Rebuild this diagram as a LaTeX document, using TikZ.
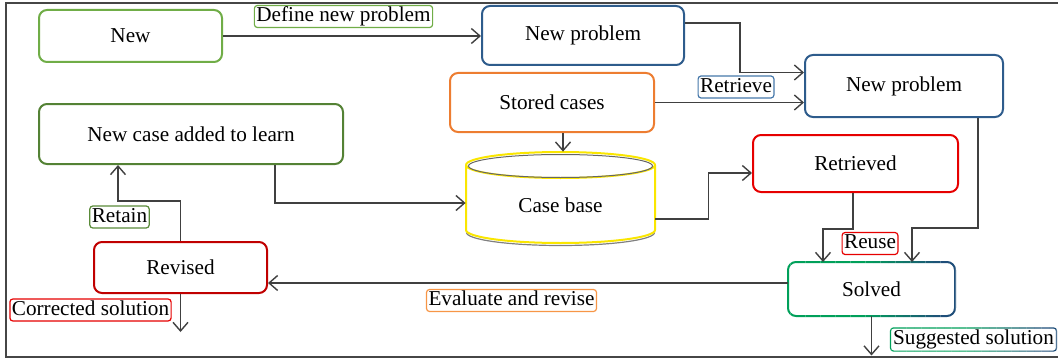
\documentclass[tikz,border=0pt]{standalone}
\usepackage{fontspec}
\setmainfont{Liberation Serif}
\usetikzlibrary{arrows.meta,calc}
\definecolor{cnew}{RGB}{112,173,71}
\definecolor{cncase}{RGB}{84,130,53}
\definecolor{cblue}{RGB}{46,92,140}
\definecolor{corange}{RGB}{237,125,49}
\definecolor{cred}{RGB}{230,0,0}
\definecolor{cdred}{RGB}{192,0,0}
\definecolor{sgreen}{RGB}{0,160,90}
\definecolor{sblue}{RGB}{31,78,121}
\definecolor{cyellow}{RGB}{250,230,0}
\definecolor{lretrieve}{RGB}{70,120,170}
\definecolor{lorange}{RGB}{247,150,70}
\definecolor{lineg}{RGB}{64,64,64}
\definecolor{framegray}{RGB}{70,70,70}
\begin{document}
\begin{tikzpicture}[x=0.5pt,y=-0.5pt,
  every node/.style={font=\fontsize{10.6}{12}\selectfont},
  box/.style={draw,rounded corners=4pt,line width=1pt,fill=white,align=center,inner sep=0pt},
  lbl/.style={draw,rounded corners=1.5pt,line width=0.6pt,inner xsep=1pt,inner ysep=0.9pt,
    text height=7.2pt,text depth=2pt,fill=white},
  arr/.style={draw=lineg,line width=0.7pt,-{Straight Barb[length=4.3pt,width=7.5pt]}},
  gradbox/.style={line width=1pt,rounded corners=4pt}]
\useasboundingbox (0,0) rectangle (1058,358);
\draw[line width=1pt,draw=framegray] (1058,3.5) -- (6,3.5) -- (6,356.5) -- (1058,356.5);

% boxes
\node[box,draw=cnew,minimum width=91.5pt,minimum height=26pt] (new) at (130.5,36) {New};
\node[box,draw=cblue,minimum width=101pt,minimum height=29.5pt] (np1) at (583,35.5) {New problem};
\node[box,draw=corange,minimum width=102pt,minimum height=29.5pt] (st) at (552,102.5) {Stored cases};
\node[box,draw=cncase,minimum width=152pt,minimum height=30pt] (ncase) at (191,134) {New case added to learn};
\node[box,draw=cblue,minimum width=99pt,minimum height=31pt] (np2) at (904,86) {New problem};
\node[box,draw=cred,minimum width=102.5pt,minimum height=28.5pt] (ret) at (855.5,163.5) {Retrieved};
\node[box,draw=cdred,minimum width=86.5pt,minimum height=25.5pt] (rev) at (180.5,267.5) {Revised};
\node[box,draw=none,minimum width=82.5pt,minimum height=26pt] (sol) at (871.5,289) {Solved};
\foreach \i in {0,...,23} {
  \pgfmathsetmacro\xa{783+\i*7.5}
  \pgfmathsetmacro\xb{\xa+7.6}
  \pgfmathtruncatemacro\p{100*max(0,min(1,(0.9-\i/23)/0.45))}
  \begin{scope}
    \clip (\xa,250) rectangle (\xb,330);
    \draw[gradbox,draw=sgreen!\p!sblue] (sol.south west) rectangle (sol.north east);
  \end{scope}
}

% cylinder
\fill[white] (466,165) -- (466,230) arc[start angle=180,end angle=0,x radius=94.5,y radius=13]
  -- (655,165) arc[start angle=0,end angle=-180,x radius=94.5,y radius=13] -- cycle;
\draw[line width=0.6pt,draw=gray] (560.5,232.5) ++(-94,0) arc[start angle=180,end angle=0,x radius=94,y radius=13];
\draw[line width=1pt,draw=cyellow] (466,165) -- (466,230) arc[start angle=180,end angle=0,x radius=94.5,y radius=13]
  -- (655,165) arc[start angle=0,end angle=-180,x radius=94.5,y radius=13];
\draw[line width=1pt,draw=cyellow] (466,165) arc[start angle=180,end angle=0,x radius=94.5,y radius=13];
\draw[line width=0.5pt,draw=gray!80!black] (560.5,166) ellipse[x radius=92,y radius=11.5];
\node[inner sep=0pt,minimum width=94.5pt,minimum height=53pt] (cb) at (560.5,205) {Case base};

% connectors
\draw[arr] (new.east) -- (new.east -| np1.west);
\draw[arr] ([yshift=6.25pt]np1.east) -- ++(27.5pt,0) |- ([yshift=6.75pt]np2.west);
\draw[arr] (st.east) -- (st.east -| np2.west);
\draw[arr] ([xshift=5.5pt]st.south) -- ([xshift=5.5pt]st.south |- cb.north);
\draw[arr] ([xshift=42pt]ncase.south) |- ([yshift=1pt]cb.west);
\draw[arr] ([yshift=-7pt]cb.east) -- ++(26.5pt,0) |- ([yshift=-4.75pt]ret.west);
\draw[arr] ([xshift=-1.25pt]ret.south) -- ++(0,-18pt) -| ([xshift=-24.25pt]sol.north);
\draw[arr] ([xshift=37pt]np2.south) -- ++(0,-55pt) -| ([xshift=20.25pt]sol.north);
\draw[arr] ([yshift=3pt]sol.west) -- ([yshift=3pt]sol.west -| rev.east);
\draw[arr] (rev.north) -- ++(0,20pt) -| ([xshift=-36.5pt]ncase.south);
\coordinate (revout) at (180.5,332);
\coordinate (solout) at (871.5,355.5);
\draw[arr] (rev.south) -- (revout);
\draw[arr] (sol.south) -- (solout);

% labels
\node[lbl,draw=cnew] (ldef) at (343.5,16.5) {Define new problem};
\node[lbl,draw=lretrieve] (lret) at (736,87) {Retrieve};
\node[lbl,draw=cncase!80!cnew] (lretain) at (119.5,217) {Retain};
\node[lbl,draw=cred] (lcorr) at (90.5,310) {Corrected solution};
\node[lbl,draw=lorange] (leval) at (511.5,300.5) {Evaluate and revise};
\node[lbl,draw=cred] (lreuse) at (870,243.5) {Reuse};
\node[lbl,draw=none] (lsugg) at (973.5,339.5) {Suggested solution};
\foreach \i in {0,...,23} {
  \pgfmathsetmacro\xa{884+\i*7.5}
  \pgfmathsetmacro\xb{\xa+7.6}
  \pgfmathtruncatemacro\p{100*max(0,min(1,(0.9-\i/23)/0.45))}
  \begin{scope}
    \clip (\xa,320) rectangle (\xb,358);
    \draw[line width=0.6pt,rounded corners=1.5pt,draw=sgreen!\p!sblue] (lsugg.south west) rectangle (lsugg.north east);
  \end{scope}
}
\end{tikzpicture}
\end{document}
